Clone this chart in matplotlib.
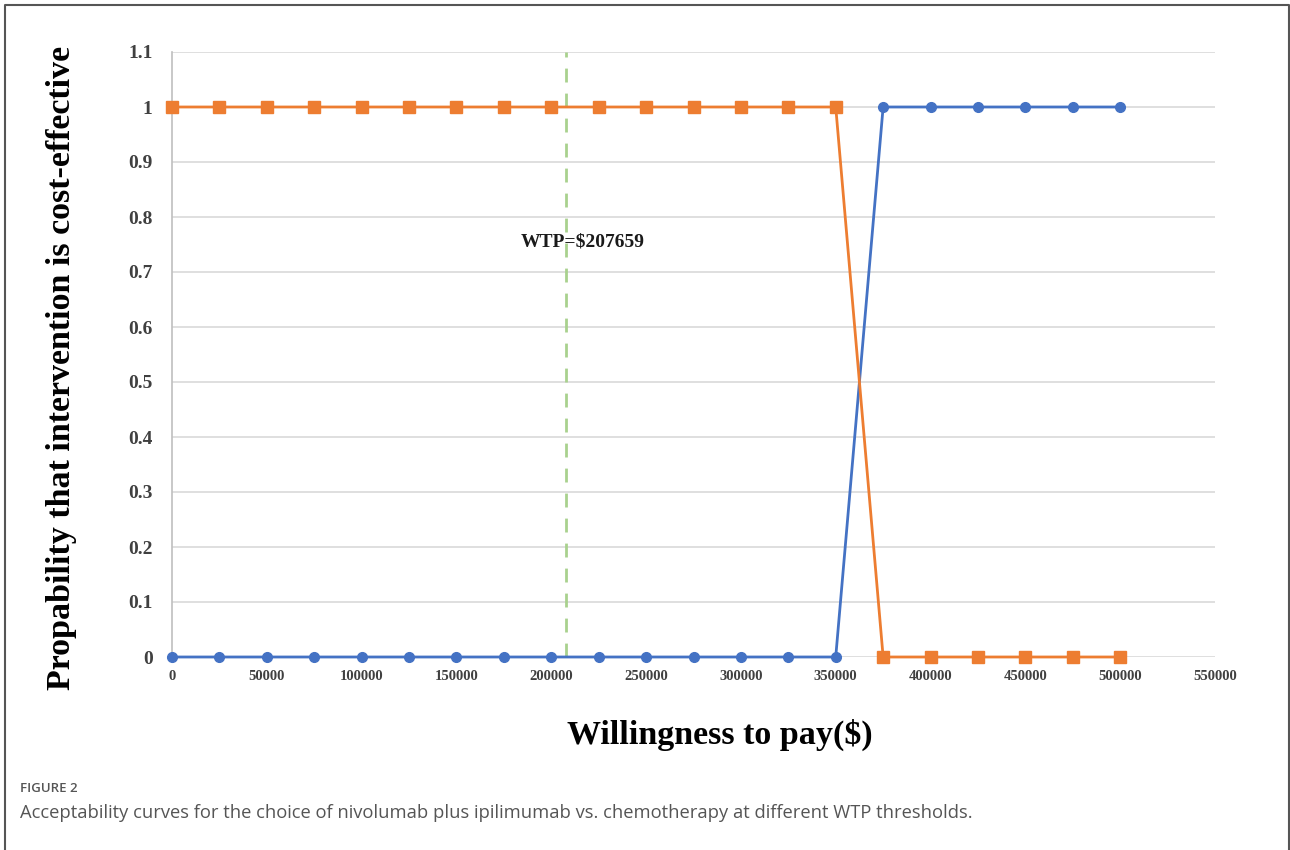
import numpy as np
import matplotlib
matplotlib.use("Agg")
import matplotlib.pyplot as plt
from matplotlib.lines import Line2D

# willingness to pay thresholds and probabilities
wtp = [0, 25000, 50000, 75000, 100000, 125000, 150000, 175000, 200000, 225000,
       250000, 275000, 300000, 325000, 350000, 375000, 400000, 425000, 450000,
       475000, 500000]
prob_nivo_ipi = [0, 0, 0, 0, 0, 0, 0, 0, 0, 0, 0, 0, 0, 0, 0, 1, 1, 1, 1, 1, 1]
prob_chemo = [1, 1, 1, 1, 1, 1, 1, 1, 1, 1, 1, 1, 1, 1, 1, 0, 0, 0, 0, 0, 0]
wtp_threshold = 207659
x_ticks = list(range(0, 550001, 50000))
y_ticks = [0, 0.1, 0.2, 0.3, 0.4, 0.5, 0.6, 0.7, 0.8, 0.9, 1, 1.1]
y_tick_labels = ["0", "0.1", "0.2", "0.3", "0.4", "0.5", "0.6", "0.7", "0.8", "0.9", "1", "1.1"]

serif = "Liberation Serif"

fig = plt.figure(figsize=(12.9, 8.5), dpi=100)
ax = fig.add_axes([172 / 1290, 1 - 657 / 850, (1215 - 172) / 1290, (657 - 52) / 850])

# gridlines
for y in y_ticks:
    ax.axhline(y, color="#d9d9d9", lw=1.2, zorder=0)

ax.plot(wtp, prob_nivo_ipi, color="#4472C4", lw=2, marker="o", markersize=7,
        zorder=3, clip_on=False)
ax.plot(wtp, prob_chemo, color="#ED7D31", lw=2, marker="s", markersize=8,
        zorder=3, clip_on=False)

# WTP threshold
ax.axvline(wtp_threshold, color="#a9d18e", lw=2, ls=(0, (5, 4)), zorder=1)
ax.text(184000, 0.755, "WTP=$207659", family=serif, fontweight="bold",
        fontsize=14, ha="left", va="center", color="#1a1a1a")

ax.set_xlim(0, 550000)
ax.set_ylim(0, 1.1)
ax.set_xticks(x_ticks)
ax.set_xticklabels([str(v) for v in x_ticks], family=serif, fontweight="bold",
                   fontsize=10.5, color="#404040")
ax.set_yticks(y_ticks)
ax.set_yticklabels(y_tick_labels, family=serif, fontweight="bold",
                   fontsize=14, color="#404040")
ax.tick_params(axis="both", length=0)
ax.tick_params(axis="x", pad=9)
ax.tick_params(axis="y", pad=14)

for s in ["top", "right", "bottom"]:
    ax.spines[s].set_visible(False)
ax.spines["left"].set_color("#bfbfbf")
ax.spines["left"].set_linewidth(1.2)

fig.text(720 / 1290, 1 - 735 / 850, "Willingness to pay($)", family=serif,
         fontweight="bold", fontsize=24.5, ha="center", va="center")
fig.text(62 / 1290, 1 - 368 / 850, "Propability that intervention is cost-effective",
         family=serif, fontweight="bold", fontsize=24.5, ha="center", va="center",
         rotation=90)

# caption
fig.text(20 / 1290, 1 - 788 / 850, "FIGURE 2", family="Open Sans", fontsize=9.5,
         fontweight="semibold", color="#555555", ha="left", va="center")
fig.text(20 / 1290, 1 - 813 / 850,
         "Acceptability curves for the choice of nivolumab plus ipilimumab vs. chemotherapy at different WTP thresholds.",
         family="Open Sans", fontsize=13.2, color="#555555", ha="left", va="center")

# frame around the figure (open at bottom)
fx0, fx1, fy = 4.5 / 1290, 1288.5 / 1290, 1 - 4.5 / 850
fig.add_artist(Line2D([fx0, fx0, fx1, fx1], [0, fy, fy, 0], color="#555555", lw=1.5,
                      transform=fig.transFigure))

fig.savefig("out.png", dpi=100)
